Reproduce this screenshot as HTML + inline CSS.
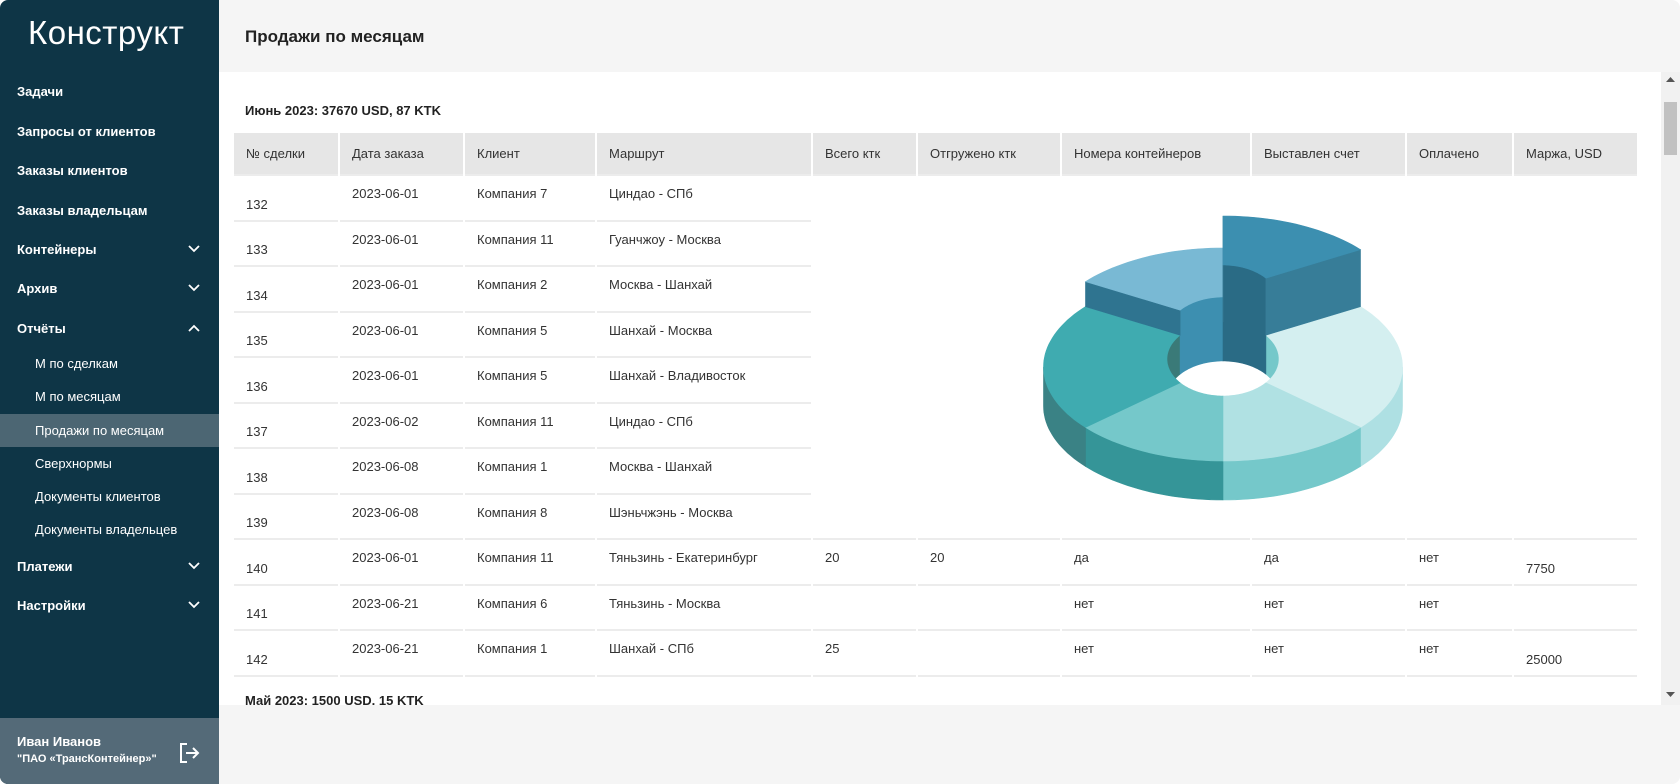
<!DOCTYPE html>
<html><head><meta charset="utf-8">
<style>
*{box-sizing:border-box;margin:0;padding:0}
body{width:1680px;height:784px;overflow:hidden;background:#fff;font-family:"Liberation Sans",sans-serif;position:relative}
#app{position:absolute;left:0;top:0;width:1680px;height:784px;border-radius:8px;overflow:hidden;background:#f5f5f5}
#side{position:absolute;left:0;top:0;width:219px;height:784px;background:#0e3546;color:#fff}
.logo{position:absolute;left:28px;top:14px;font-size:33px;font-weight:300;letter-spacing:0.5px}
.mi{position:absolute;left:17px;font-size:13px;font-weight:bold;color:#fff}
.si{position:absolute;left:35px;font-size:13px;color:#fff}
.chev{position:absolute;left:188px}
.hl{position:absolute;left:0;top:414px;width:219px;height:33px;background:#4c6673}
.foot{position:absolute;left:0;top:718px;width:219px;height:66px;background:#546a78}
#hdr{position:absolute;left:219px;top:0;width:1461px;height:72px;background:#f5f5f5}
#hdr h1{position:absolute;left:26px;top:27px;font-size:17px;font-weight:bold;color:#222}
#content{position:absolute;left:219px;top:72px;width:1442px;height:633px;background:#fff;overflow:hidden}
.sect{position:absolute;left:26px;font-size:13px;font-weight:bold;color:#222}
table{position:absolute;left:13px;top:61px;width:1407px;border-collapse:separate;border-spacing:2px 0;table-layout:fixed}
th{background:#e6e6e6;height:43px;font-weight:normal;text-align:left;font-size:13px;color:#333;padding-left:12px;border-bottom:2px solid #ececec}
td{height:45.5px;font-size:13px;color:#333;padding-left:12px;vertical-align:top;padding-top:10px;border-bottom:2px solid #ececec}
td.b{vertical-align:bottom;padding-bottom:8px;padding-top:0}
td.n{border-bottom:none}
#scroll{position:absolute;left:1661px;top:72px;width:19px;height:633px;background:#f1f1f1}
</style></head><body>
<div id="app">
<div id="side">
  <div class="logo">Конструкт</div>
  <div class="mi" style="top:84px">Задачи</div>
  <div class="mi" style="top:124px">Запросы от клиентов</div>
  <div class="mi" style="top:163px">Заказы клиентов</div>
  <div class="mi" style="top:203px">Заказы владельцам</div>
  <div class="mi" style="top:242px">Контейнеры</div>
  <svg class="chev" style="top:245px" width="12" height="8"><polyline points="1,1 6,6 11,1" fill="none" stroke="#fff" stroke-width="1.8"/></svg>
  <div class="mi" style="top:281px">Архив</div>
  <svg class="chev" style="top:284px" width="12" height="8"><polyline points="1,1 6,6 11,1" fill="none" stroke="#fff" stroke-width="1.8"/></svg>
  <div class="mi" style="top:321px">Отчёты</div>
  <svg class="chev" style="top:324px" width="12" height="8"><polyline points="1,7 6,2 11,7" fill="none" stroke="#fff" stroke-width="1.8"/></svg>
  <div class="si" style="top:356px">М по сделкам</div>
  <div class="si" style="top:389px">М по месяцам</div>
  <div class="hl"></div>
  <div class="si" style="top:423px">Продажи по месяцам</div>
  <div class="si" style="top:456px">Сверхнормы</div>
  <div class="si" style="top:489px">Документы клиентов</div>
  <div class="si" style="top:522px">Документы владельцев</div>
  <div class="mi" style="top:559px">Платежи</div>
  <svg class="chev" style="top:562px" width="12" height="8"><polyline points="1,1 6,6 11,1" fill="none" stroke="#fff" stroke-width="1.8"/></svg>
  <div class="mi" style="top:598px">Настройки</div>
  <svg class="chev" style="top:601px" width="12" height="8"><polyline points="1,1 6,6 11,1" fill="none" stroke="#fff" stroke-width="1.8"/></svg>
  <div class="foot">
    <div style="position:absolute;left:17px;top:16px;font-size:13px;font-weight:bold">Иван Иванов</div>
    <div style="position:absolute;left:17px;top:35px;font-size:11px;font-weight:bold">"ПАО «ТрансКонтейнер»"</div>
    <svg style="position:absolute;left:178px;top:24px" width="22" height="22"><path d="M9 2H3v18h6" fill="none" stroke="#fff" stroke-width="2"/><path d="M8 11h12M15 6l5 5-5 5" fill="none" stroke="#fff" stroke-width="2"/></svg>
  </div>
</div>
<div id="hdr"><h1>Продажи по месяцам</h1></div>
<div id="content">
  <div class="sect" style="top:31px">Июнь 2023: 37670 USD, 87 KTK</div>
  <table>
    <colgroup><col style="width:104px"><col style="width:123px"><col style="width:130px"><col style="width:214px"><col style="width:103px"><col style="width:142px"><col style="width:188px"><col style="width:153px"><col style="width:105px"><col style="width:123px"></colgroup>
    <tr><th>№ сделки</th><th>Дата заказа</th><th>Клиент</th><th>Маршрут</th><th>Всего ктк</th><th>Отгружено ктк</th><th>Номера контейнеров</th><th>Выставлен счет</th><th>Оплачено</th><th>Маржа, USD</th></tr>
    <tr><td class="b">132</td><td>2023-06-01</td><td>Компания 7</td><td>Циндао - СПб</td><td class="n"></td><td class="n"></td><td class="n"></td><td class="n"></td><td class="n"></td><td class="n"></td></tr>
    <tr><td class="b">133</td><td>2023-06-01</td><td>Компания 11</td><td>Гуанчжоу - Москва</td><td class="n"></td><td class="n"></td><td class="n"></td><td class="n"></td><td class="n"></td><td class="n"></td></tr>
    <tr><td class="b">134</td><td>2023-06-01</td><td>Компания 2</td><td>Москва - Шанхай</td><td class="n"></td><td class="n"></td><td class="n"></td><td class="n"></td><td class="n"></td><td class="n"></td></tr>
    <tr><td class="b">135</td><td>2023-06-01</td><td>Компания 5</td><td>Шанхай - Москва</td><td class="n"></td><td class="n"></td><td class="n"></td><td class="n"></td><td class="n"></td><td class="n"></td></tr>
    <tr><td class="b">136</td><td>2023-06-01</td><td>Компания 5</td><td>Шанхай - Владивосток</td><td class="n"></td><td class="n"></td><td class="n"></td><td class="n"></td><td class="n"></td><td class="n"></td></tr>
    <tr><td class="b">137</td><td>2023-06-02</td><td>Компания 11</td><td>Циндао - СПб</td><td class="n"></td><td class="n"></td><td class="n"></td><td class="n"></td><td class="n"></td><td class="n"></td></tr>
    <tr><td class="b">138</td><td>2023-06-08</td><td>Компания 1</td><td>Москва - Шанхай</td><td class="n"></td><td class="n"></td><td class="n"></td><td class="n"></td><td class="n"></td><td class="n"></td></tr>
    <tr><td class="b">139</td><td>2023-06-08</td><td>Компания 8</td><td>Шэньчжэнь - Москва</td><td></td><td></td><td></td><td></td><td></td><td></td></tr>
    <tr><td class="b">140</td><td>2023-06-01</td><td>Компания 11</td><td>Тяньзинь - Екатеринбург</td><td>20</td><td>20</td><td>да</td><td>да</td><td>нет</td><td class="b">7750</td></tr>
    <tr><td class="b">141</td><td>2023-06-21</td><td>Компания 6</td><td>Тяньзинь - Москва</td><td></td><td></td><td>нет</td><td>нет</td><td>нет</td><td class="b"></td></tr>
    <tr><td class="b">142</td><td>2023-06-21</td><td>Компания 1</td><td>Шанхай - СПб</td><td>25</td><td></td><td>нет</td><td>нет</td><td>нет</td><td class="b">25000</td></tr>
  </table>
  <div class="sect" style="top:621px">Май 2023: 1500 USD, 15 KTK</div>
  <svg id="donut" style="position:absolute;left:0;top:0" width="1442" height="633"></svg>
</div>
<div id="scroll">
  <svg style="position:absolute;left:5px;top:5px" width="9" height="6"><polygon points="0,5 4.5,0 9,5" fill="#555"/></svg>
  <div style="position:absolute;left:3px;top:30px;width:13px;height:53px;background:#c1c1c1"></div>
  <svg style="position:absolute;left:5px;top:620px" width="9" height="6"><polygon points="0,0 9,0 4.5,5" fill="#555"/></svg>
</div>
</div>
<script>
const categories = ["A","B","C","D","E","F"];
const values = [50,80,50,50,80,50];
const extraHeight = [57,0,0,0,0,25];
const topColors = ["#3c8fb0","#d4eff0","#b0e1e3","#75c8ca","#3fabb0","#79b9d4"];
const sideColors = ["#377d98","#aee0e3","#75c8ca","#359598","#3a8285","#2f7490"];
const innerColors = ["#2a6b85","#75c8ca","#75c8ca","#359598","#3a7a78","#3d8fb0"];

const svg = document.getElementById('donut');
const NS = 'http://www.w3.org/2000/svg';
const CX = 1223-219, CY = 367-72, R = 179.5, RI = 56, K = 94/179.5, KI = 37/56, IOFF = -8, DEPTH = 39;
const total = values.reduce((a,b)=>a+b,0);
function pt(r,aDeg,h){const a=aDeg*Math.PI/180;const inner=r<R;const k=inner?KI:K;const oy=inner?IOFF:0;return [CX+r*Math.cos(a), CY+oy+k*r*Math.sin(a)-h];}
function arc(r,a0,a1,h){const pts=[];const n=Math.max(2,Math.ceil(Math.abs(a1-a0)/2));for(let i=0;i<=n;i++){pts.push(pt(r,a0+(a1-a0)*i/n,h));}return pts;}
function poly(pts,fill,name){const p=document.createElementNS(NS,'path');
p.setAttribute('d','M'+pts.map(q=>q[0].toFixed(1)+','+q[1].toFixed(1)).join('L')+'Z');
p.setAttribute('fill',fill);p.setAttribute('stroke',fill);p.setAttribute('stroke-width','0.6');


svg.appendChild(p);}
function clipRanges(a0,a1,lo,hi){const out=[];for(const off of [-360,0,360]){const s=Math.max(a0,lo+off),e=Math.min(a1,hi+off);if(e>s)out.push([s,e]);}return out;}
const slices=[];let acc=-90;
values.forEach((v,i)=>{const span=v/total*360;slices.push({i,a0:acc,a1:acc+span,h:extraHeight[i]});acc+=span;});
const order=slices.slice().sort((a,b)=>a.h-b.h);
const groups=[...new Set(order.map(s=>s.h))];
groups.forEach(g=>{
  const gs=order.filter(s=>s.h===g);
  gs.forEach(s=>{clipRanges(s.a0,s.a1,180,360).forEach(([a,b])=>{poly(arc(RI,a,b,s.h).concat(arc(RI,b,a,-DEPTH)),innerColors[s.i],'slice-inner-wall-'+categories[s.i]);});});
  gs.forEach(s=>{clipRanges(s.a0,s.a1,0,180).forEach(([a,b])=>{poly(arc(R,a,b,s.h).concat(arc(R,b,a,-DEPTH)),sideColors[s.i],'slice-outer-wall-'+categories[s.i]);});});
  gs.forEach(s=>{if(s.h>0){[s.a0,s.a1].forEach(a=>{poly([pt(RI,a,s.h),pt(R,a,s.h),pt(R,a,0),pt(RI,a,0)],sideColors[s.i],'slice-end-face-'+categories[s.i]);});}});
  gs.forEach(s=>{poly(arc(R,s.a0,s.a1,s.h).concat(arc(RI,s.a1,s.a0,s.h)),topColors[s.i],'slice-top-'+categories[s.i]);});
});
</script>
</body></html>
